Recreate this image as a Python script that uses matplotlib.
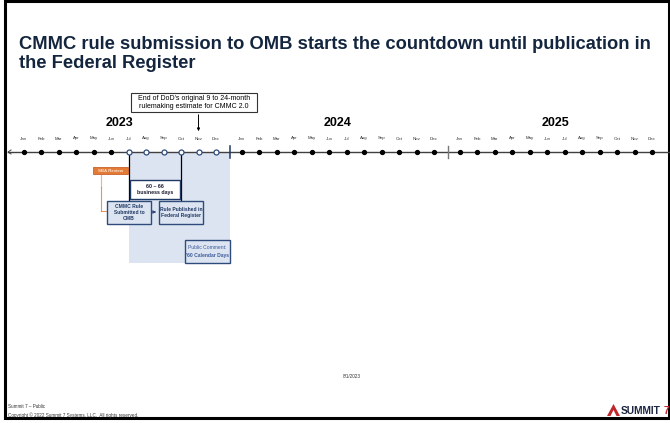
import matplotlib
matplotlib.use("Agg")
import matplotlib.pyplot as plt
from matplotlib.patches import Rectangle, Polygon, FancyArrowPatch

plt.rcParams['font.family'] = ['Liberation Sans', 'DejaVu Sans']

# data
years = [2023, 2024, 2025]
months = ["Jan", "Feb", "Mar", "Apr", "May", "Jun",
          "Jul", "Aug", "Sep", "Oct", "Nov", "Dec"]
# months inside the rulemaking window (2023) drawn as open markers
window_months = [(2023, m) for m in range(6, 12)]

title = ("CMMC rule submission to OMB starts the countdown until publication in\n"
         "the Federal Register")
navy = "#1f3864"
box_edge = "#2f4b7c"
box_fill = "#dde4f1"
orange = "#e37a35"

# layout (pixel space of the slide)
x0, month_w, year_w = 23.5, 17.5, 218.0
line_y = 152


def xpos(year, m):
    return x0 + (year - years[0]) * year_w + m * month_w


fig = plt.figure(figsize=(6.7, 4.23), dpi=100)
ax = fig.add_axes([0, 0, 1, 1])
ax.set_xlim(0, 670)
ax.set_ylim(423, 0)
ax.axis("off")

# slide frame
ax.add_patch(Rectangle((5, 1.5), 663.5, 417, fill=False, ec="black", lw=2.2))

ax.text(19, 72, title, fontsize=13.2, fontweight="bold", color="#14263f",
        va="bottom", linespacing=1.15)

# shaded window Jul 2023 -> end of 2023
ax.add_patch(Rectangle((xpos(2023, 6), line_y), xpos(2024, 0) - 11.5 - xpos(2023, 6), 111,
                       fc=box_fill, ec="none", zorder=1))

# timeline
ax.plot([8, 670], [line_y, line_y], color="#404040", lw=1, zorder=2)
ax.plot([11, 8, 11], [line_y - 2, line_y, line_y + 2], color="#404040", lw=0.7, zorder=2)

for y in years:
    xs = [xpos(y, m) for m in range(12)]
    ax.text((xs[0] + xs[-1]) / 2, 123, str(y), fontsize=9, fontweight="bold",
            ha="center", va="center")
    for m, name in enumerate(months):
        ax.text(xs[m], 138.5, name, fontsize=3.2, ha="center", va="center", color="#333333")
        if (y, m) in window_months:
            ax.plot(xs[m], line_y, "o", ms=3.6, mfc="white", mec=box_edge, mew=0.9, zorder=3)
        else:
            ax.plot(xs[m], line_y, "o", ms=2.8, color="black", zorder=3)

# year separators
ax.plot([230, 230], [line_y - 6, line_y + 6], color=navy, lw=1.1, zorder=3)
ax.plot([448, 448], [line_y - 6, line_y + 6], color="#777777", lw=1, zorder=3)

# vertical connectors
ax.plot([xpos(2023, 6), xpos(2023, 6)], [line_y, 201], color="black", lw=0.9, zorder=2)
ax.plot([xpos(2023, 9), xpos(2023, 9)], [line_y, 201], color="black", lw=0.9, zorder=2)


def box(x, y, w, h, text, fc=box_fill, ec=box_edge, color=navy, fs=3.6, bold=True, lw=1):
    ax.add_patch(Rectangle((x, y), w, h, fc=fc, ec=ec, lw=lw, zorder=4))
    ax.text(x + w / 2, y + h / 2, text, fontsize=fs, ha="center", va="center",
            color=color, fontweight="bold" if bold else "normal", zorder=5,
            linespacing=1.3)


box(130, 180, 50, 19, "60 \u2013 66\nbusiness days", fc="white", ec=navy, color="#1a1a2e", fs=3.8)
box(107, 201, 44, 23, "CMMC Rule\nSubmitted to\nOMB")
box(159, 201, 44, 23, "Rule Published in\nFederal Register")
ax.add_patch(Rectangle((185, 240), 45, 23, fc=box_fill, ec=box_edge, lw=1, zorder=4))
ax.text(207.5, 247.5, "Public Comment:", fontsize=3.6, ha="center", va="center", color="#3b5a9a", zorder=5)
ax.text(207.5, 255.5, "'60 Calendar Days", fontsize=3.6, ha="center", va="center",
        color="#3b5a9a", fontweight="bold", zorder=5)

ax.add_patch(FancyArrowPatch((151, 212), (159, 212), arrowstyle="-|>", mutation_scale=4,
                             color=box_edge, lw=0.8, zorder=4))

# SBA review
box(93, 167, 35, 7.5, "SBA Review", fc=orange, ec="#c8602a", color="#fbe3d1", fs=3.2, lw=0.6)
ax.plot([101, 101], [175, 187], color="#f4b183", lw=0.8)
ax.plot([101, 101], [187, 211], color=orange, lw=0.8, alpha=0.8)
ax.plot([101, 106], [211, 211], color=orange, lw=0.6)

# DoD estimate callout
ax.add_patch(Rectangle((131, 93), 126, 19, fc="white", ec="#333333", lw=0.8, zorder=4))
ax.text(194, 102.5, "End of DoD's original 9 to 24-month\nrulemaking estimate for CMMC 2.0",
        fontsize=5, ha="center", va="center", zorder=5, linespacing=1.15)
ax.add_patch(FancyArrowPatch((xpos(2023, 10), 112), (xpos(2023, 10), 134), arrowstyle="-|>",
                             mutation_scale=4, color="black", lw=0.7, zorder=4))

# footer
ax.text(352, 376, "8/1/2023", fontsize=3.3, ha="center", va="center", color="#333333")
ax.text(8, 406, "Summit 7 \u2013 Public", fontsize=3.3, va="center", color="#333333")
ax.text(8, 415, "Copyright \u00a9 2022 Summit 7 Systems, LLC.  All rights reserved.",
        fontsize=3.3, va="center", color="#333333")

ax.add_patch(Polygon([[607, 416], [613.5, 404], [620, 416]], closed=True, fc="#c0272d", ec="none"))
ax.add_patch(Polygon([[610.5, 416], [613.5, 410], [616.5, 416]], closed=True, fc="white", ec="none"))
ax.text(620.5, 410.5, "SUMMIT", fontsize=7.3, fontweight="bold", color="#1c2541", va="center")
ax.text(669, 410.5, "7", fontsize=7.3, fontweight="bold", color="#c0272d", va="center", ha="right")

fig.savefig("out.png", dpi=100)
